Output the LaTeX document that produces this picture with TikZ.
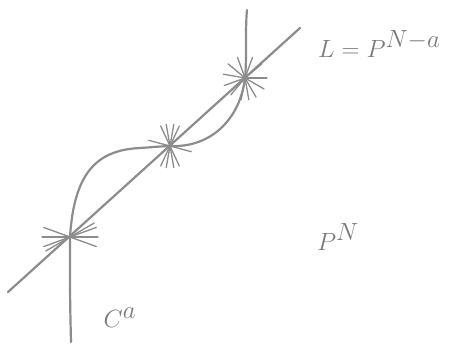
\documentclass[tikz,border=0pt]{standalone}
\usepackage{amsmath}
\usetikzlibrary{calc}
\definecolor{skGray}{HTML}{8C8C8C}
\definecolor{skInk}{HTML}{7A7A7A}
\tikzset{
  pencil/.style={skGray,line width=2.2pt,line cap=round,line join=round},
  ray/.style={skGray,line width=1.3pt,line cap=round},
  handlabel/.style={text=skInk,inner sep=0pt,font=\fontsize{40}{44}\selectfont}
}
\begin{document}
\begin{tikzpicture}[x=1pt,y=-1pt]
\useasboundingbox (0,0) rectangle (459,345);
% intersection points
\coordinate (lo) at (8,292);
\coordinate (hi) at (300,28);
\coordinate (s1) at (70,237);
\coordinate (s2) at (170,146);
\coordinate (s3) at (245,78);
\coordinate (cbot) at (71,342);
\coordinate (ctop) at (247,10);
% the line L
\draw[pencil] (lo) -- (hi);
% the curve C
\draw[pencil] (cbot) .. controls (70,300) .. (s1)
  .. controls (74,175) and (95,150) .. (140,148)
  .. controls (155,147) and (165,146) .. (s2)
  .. controls (210,148) and (240,120) .. (s3)
  .. controls (247,60) and (245,30) .. (ctop);
% stars at the intersections
\foreach \a in {0,20,160,180,200,330,150,340} \draw[ray] (s1) -- ++(\a:28);
\foreach \a in {65,80,100,115,245,260,280,295,15,195} \draw[ray] (s2) -- ++(\a:22);
\foreach \a in {0,30,60,80,100,130,160,190,220,250,290,320} \draw[ray] (s3) -- ++(\a:22);
% labels
\node[handlabel,anchor=west] (lbl) at (318,44) {$L=P^{N-a}$};
\node[handlabel] (pn) at (338,237) {$P^N$};
\node[handlabel] (ca) at (120,318) {$C^a$};
\end{tikzpicture}
\end{document}
